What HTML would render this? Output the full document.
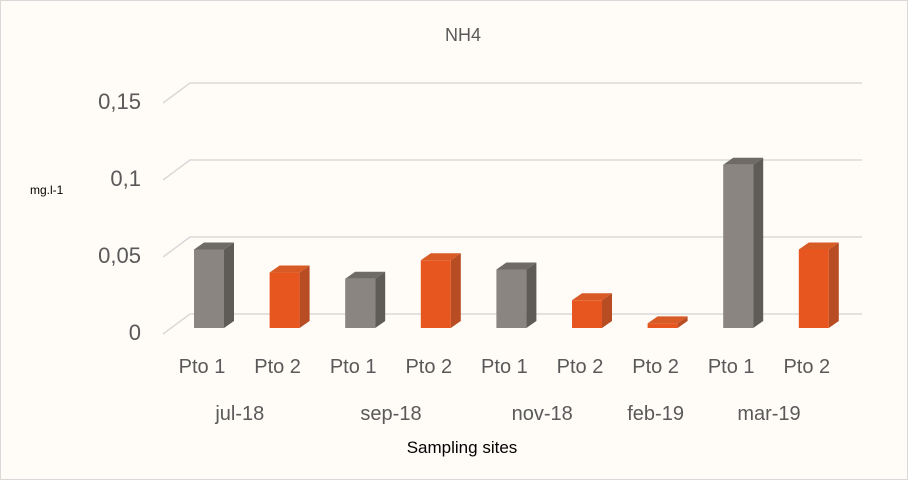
<!DOCTYPE html>
<html><head><meta charset="utf-8"><style>
body{margin:0;background:#fff}
svg text{font-family:"Liberation Sans",sans-serif}
</style></head><body>
<svg id="chart" width="908" height="480" xmlns="http://www.w3.org/2000/svg">
<rect x="0.5" y="0.5" width="907" height="479" fill="#fffcf8" stroke="#d9d9d9"/>
<text x="463" y="41" font-size="18" fill="#595959" text-anchor="middle">NH4</text>
<text x="30" y="194" font-size="12" fill="#000">mg.l-1</text>
<text x="462" y="453" font-size="17" fill="#000" text-anchor="middle">Sampling sites</text>
<g id="grid"></g><g id="bars"></g><g id="labels"></g>
</svg>
<script>
const categories=["Pto 1","Pto 2","Pto 1","Pto 2","Pto 1","Pto 2","Pto 2","Pto 1","Pto 2"];
const values=[0.051,0.036,0.032,0.044,0.038,0.018,0.003,0.106,0.051];
const months=["jul-18","sep-18","nov-18","feb-19","mar-19"];
const monthSpans=[[0,1],[2,3],[4,5],[6,6],[7,8]];
const ticks=[0,0.05,0.1,0.15];
const tickLabels=["0","0,05","0,1","0,15"];
const NS="http://www.w3.org/2000/svg";
const yBack=v=>314-v*1540;
const yFront=v=>328-v*1540;
const xC=i=>202+75.6*i;
function mk(tag,attrs,parent){const e=document.createElementNS(NS,tag);for(const k in attrs)e.setAttribute(k,attrs[k]);parent.appendChild(e);return e;}
const grid=document.getElementById('grid'),bars=document.getElementById('bars'),labels=document.getElementById('labels');
ticks.forEach((t,i)=>{const y=yBack(t);
 const g=mk('path',{d:`M163 ${y+20} L190 ${y} L862 ${y}`,fill:'none',stroke:'#d9d9d9','stroke-width':1.5},grid);
 
 
 const tx=mk('text',{x:141,y:y+26,'font-size':22,fill:'#595959','text-anchor':'end'},labels);
 tx.textContent=tickLabels[i];
 
 
});
const dx=10,dy=7,w=30;
values.forEach((v,i)=>{const gray=categories[i]==="Pto 1";
 const x=xC(i)-8,yt=yFront(v),yb=328;
 const g=mk('g',{},bars);
 
 
 mk('rect',{x:x,y:yt,width:w,height:yb-yt,fill:gray?'#8a8580':'#e8561f'},g);
 mk('polygon',{points:`${x+w},${yt} ${x+w+dx},${yt-dy} ${x+w+dx},${yb-dy} ${x+w},${yb}`,fill:gray?'#5f5b57':'#b84d24'},g);
 mk('polygon',{points:`${x},${yt} ${x+dx},${yt-dy} ${x+w+dx},${yt-dy} ${x+w},${yt}`,fill:gray?'#6e6a66':'#d85a24'},g);
 const tx=mk('text',{x:xC(i),y:373,'font-size':20,fill:'#595959','text-anchor':'middle'},labels);
 tx.textContent=categories[i];
 
 
});
months.forEach((m,i)=>{const s=monthSpans[i];const cx=(xC(s[0])+xC(s[1]))/2;
 const tx=mk('text',{x:cx,y:420,'font-size':20,fill:'#595959','text-anchor':'middle'},labels);
 tx.textContent=m;
 
 
});
</script>
</body></html>
